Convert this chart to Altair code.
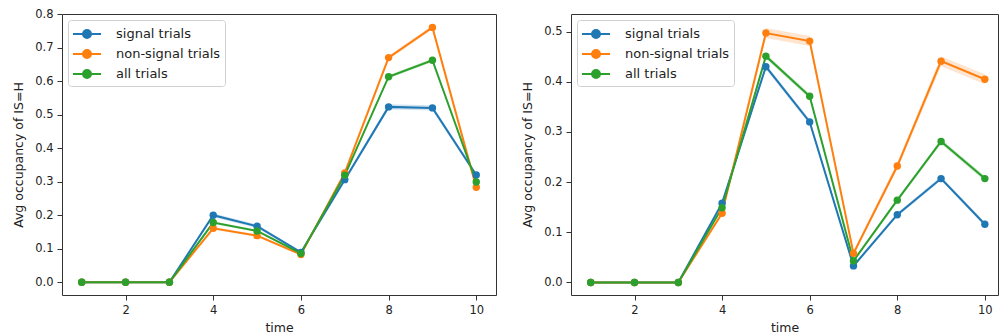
import altair as alt
import pandas as pd

time = [1, 2, 3, 4, 5, 6, 7, 8, 9, 10]
series = ["signal trials", "non-signal trials", "all trials"]
colors = ["#1f77b4", "#ff7f0e", "#2ca02c"]

# left panel
sig_L = [0, 0, 0, 0.200, 0.167, 0.089, 0.306, 0.523, 0.520, 0.320]
non_L = [0, 0, 0, 0.161, 0.139, 0.083, 0.326, 0.670, 0.760, 0.283]
all_L = [0, 0, 0, 0.178, 0.153, 0.086, 0.319, 0.613, 0.662, 0.299]
sig_err_L = [0, 0, 0, 0.006, 0.005, 0.004, 0.006, 0.008, 0.008, 0.006]
non_err_L = [0, 0, 0, 0.004, 0.004, 0.003, 0.006, 0.006, 0.006, 0.005]
all_err_L = [0, 0, 0, 0.004, 0.003, 0.003, 0.004, 0.005, 0.005, 0.004]

# right panel
sig_R = [0, 0, 0, 0.158, 0.430, 0.320, 0.033, 0.135, 0.207, 0.116]
non_R = [0, 0, 0, 0.138, 0.497, 0.481, 0.058, 0.232, 0.441, 0.405]
all_R = [0, 0, 0, 0.149, 0.451, 0.371, 0.043, 0.164, 0.281, 0.207]
sig_err_R = [0, 0, 0, 0.004, 0.005, 0.005, 0.003, 0.004, 0.004, 0.004]
non_err_R = [0, 0, 0, 0.005, 0.010, 0.010, 0.005, 0.007, 0.010, 0.010]
all_err_R = [0, 0, 0, 0.003, 0.005, 0.005, 0.003, 0.004, 0.005, 0.005]


def make_df(vals, errs):
    rows = []
    for k, (name, v, e) in enumerate(zip(series, vals, errs)):
        for t, y, d in zip(time, v, e):
            rows.append({"time": t, "value": y, "lo": y - d, "hi": y + d,
                         "series": name, "k": k})
    return pd.DataFrame(rows)


dfL = make_df([sig_L, non_L, all_L], [sig_err_L, non_err_L, all_err_L])
dfR = make_df([sig_R, non_R, all_R], [sig_err_R, non_err_R, all_err_R])

sym_path = ("M-1.62,0H1.62M-0.46,0A0.46,0.46,0,1,1,0.46,0"
            "A0.46,0.46,0,1,1,-0.46,0Z")


def panel(df, xdom, ydom, yticks, w, h):
    color = alt.Color(
        "series:N",
        scale=alt.Scale(domain=series, range=colors),
        legend=alt.Legend(
            title=None, orient="top-left", offset=6,
            symbolType=sym_path, symbolSize=300, symbolStrokeWidth=2,
            symbolOpacity=1,
            labelFontSize=13, labelFont="DejaVu Sans", labelColor="#222",
            padding=4, labelOffset=19, symbolOffset=5, rowPadding=2,
            fillColor="white", strokeColor="#d0d0d0", cornerRadius=3,
        ),
    )
    xaxis = alt.Axis(values=[2, 4, 6, 8, 10], title="time", format="d")
    yaxis = alt.Axis(values=yticks, title="Avg occupancy of IS=H", format=".1f",
                     labelOverlap=False)
    xs = alt.Scale(domain=xdom, nice=False, zero=False)
    ys = alt.Scale(domain=ydom, nice=False, zero=False)
    base = alt.Chart(df)
    band = base.mark_area(fillOpacity=0.2, strokeWidth=0).encode(
        x=alt.X("time:Q", scale=xs, axis=xaxis),
        y=alt.Y("lo:Q", scale=ys, axis=yaxis),
        y2="hi:Q", color=color, detail="k:N",
    )
    line = base.mark_line(strokeWidth=2, point=alt.OverlayMarkDef(filled=True, size=55, opacity=1)).encode(
        x=alt.X("time:Q", scale=xs, axis=xaxis),
        y=alt.Y("value:Q", scale=ys, axis=yaxis),
        color=color, order=alt.Order("time:Q"),
    )
    return alt.layer(band, line).properties(width=w, height=h)


left = panel(dfL, [0.55, 10.45], [-0.038, 0.8],
             [0.0, 0.1, 0.2, 0.3, 0.4, 0.5, 0.6, 0.7, 0.8], 434, 281)
right = panel(dfR, [0.55, 10.30], [-0.025, 0.535],
              [0.0, 0.1, 0.2, 0.3, 0.4, 0.5], 427, 281)

chart = alt.hconcat(left, right, spacing=75, bounds="flush").resolve_scale(
    color="independent"
).resolve_legend(color="independent").properties(
    padding={"left": 12, "top": 7, "right": 0, "bottom": 0}
).configure_view(
    stroke="#333", strokeWidth=1
).configure_axis(
    grid=False, domain=False, ticks=True, tickSize=5, tickColor="#333",
    labelFont="DejaVu Sans", labelFontSize=11.5, labelColor="#222",
    titleFont="DejaVu Sans", titleFontSize=12.5, titleFontWeight="normal",
    titleColor="#222", labelPadding=4,
).configure_axisY(titlePadding=9).configure_axisX(titlePadding=6, labelPadding=4)

chart.save("out.html", embed_options={"renderer": "svg", "actions": False})
